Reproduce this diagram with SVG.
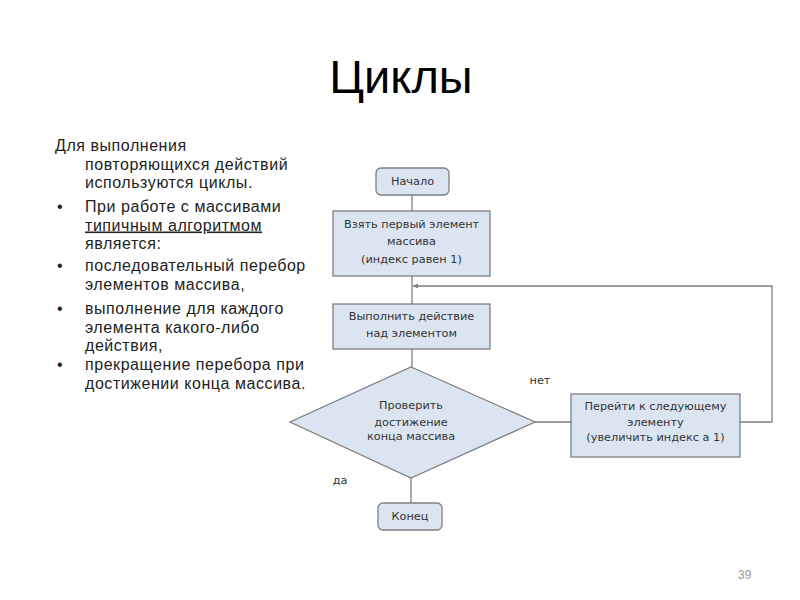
<svg xmlns="http://www.w3.org/2000/svg" width="800" height="600" viewBox="0 0 800 600">
<defs>
<style>
.title{font-family:"Liberation Sans","Noto Sans",sans-serif;font-size:47px;fill:#000;}
.body{font-family:"Liberation Sans","Noto Sans",sans-serif;font-size:16px;letter-spacing:0.55px;fill:#222;}
.box{fill:#dbe5f1;stroke:#7f7f7f;stroke-width:1.3;}
.lbl{font-family:"DejaVu Sans","Noto Sans",sans-serif;font-size:11.3px;fill:#333;text-anchor:middle;}
.edge{fill:none;stroke:#7f7f7f;stroke-width:1.3;}
.pg{font-family:"Liberation Sans",sans-serif;font-size:12px;fill:#999;}
</style>
<marker id="arr" markerWidth="6" markerHeight="6" refX="5" refY="3" orient="auto" markerUnits="userSpaceOnUse">
<path d="M0,0.5 L5,3 L0,5.5 z" fill="#7f7f7f"/>
</marker>
</defs>
<rect width="800" height="600" fill="#fff"/>
<text class="title" x="401" y="93" text-anchor="middle">Циклы</text>
<g id="bullets" class="body">
<text x="55" y="151">Для выполнения</text>
<text x="85" y="169.5">повторяющихся действий</text>
<text x="85" y="188">используются циклы.</text>
<text x="57" y="212">•</text>
<text x="85" y="212">При работе с массивами</text>
<text x="85" y="230.5" text-decoration="underline">типичным алгоритмом</text>
<text x="85" y="249">является:</text>
<text x="57" y="271">•</text>
<text x="85" y="271">последовательный перебор</text>
<text x="85" y="289.5">элементов массива,</text>
<text x="57" y="314">•</text>
<text x="85" y="314">выполнение для каждого</text>
<text x="85" y="332.5">элемента какого-либо</text>
<text x="85" y="351">действия,</text>
<text x="57" y="370">•</text>
<text x="85" y="370">прекращение перебора при</text>
<text x="85" y="388.5">достижении конца массива.</text>
</g>
<g id="connectors">
<path class="edge" d="M412,195 V211"/>
<path class="edge" d="M412,276 V304"/>
<path class="edge" d="M412,349 V367"/>
<path class="edge" d="M411,478 V503"/>
<path class="edge" d="M535,422 H571"/>
<path class="edge" d="M740,422 H772 V286 H413" marker-end="url(#arr)"/>
<text class="lbl" x="540" y="384">нет</text>
<text class="lbl" x="340" y="484">да</text>
</g>
<g id="start">
<rect class="box" x="376" y="168" width="73" height="27" rx="5"/>
<text class="lbl" x="412.5" y="185">Начало</text>
</g>
<g id="first">
<rect class="box" x="333" y="211" width="157" height="65"/>
<text class="lbl" x="411.5" y="228">Взять первый элемент</text>
<text class="lbl" x="411.5" y="245">массива</text>
<text class="lbl" x="411.5" y="263">(индекс равен 1)</text>
</g>
<g id="action">
<rect class="box" x="333" y="304" width="157" height="45"/>
<text class="lbl" x="411.5" y="320">Выполнить действие</text>
<text class="lbl" x="411.5" y="337">над элементом</text>
</g>
<g id="check">
<polygon class="box" points="411,367 535,422 411,478 290,422"/>
<text class="lbl" x="411" y="409">Проверить</text>
<text class="lbl" x="411" y="426">достижение</text>
<text class="lbl" x="411" y="440">конца массива</text>
</g>
<g id="next">
<rect class="box" x="571" y="394" width="169" height="63"/>
<text class="lbl" x="655.5" y="410">Перейти к следующему</text>
<text class="lbl" x="655.5" y="426">элементу</text>
<text class="lbl" x="655.5" y="441">(увеличить индекс а 1)</text>
</g>
<g id="end">
<rect class="box" x="378" y="503" width="64" height="27" rx="5"/>
<text class="lbl" x="410" y="520">Конец</text>
</g>
<text class="pg" x="738" y="579">39</text>
</svg>
